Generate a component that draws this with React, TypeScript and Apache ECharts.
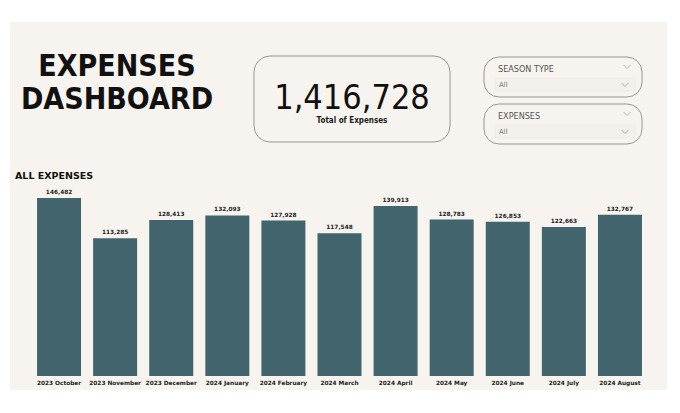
import React, { useEffect, useRef } from "react";
import * as echarts from "echarts";

const categories = [
  "2023 October", "2023 November", "2023 December", "2024 January", "2024 February",
  "2024 March", "2024 April", "2024 May", "2024 June", "2024 July", "2024 August",
];
const expenses = [146482, 113285, 128413, 132093, 127928, 117548, 139913, 128783, 126853, 122663, 132767];
const totalLabel = "1,416,728";
const slicers = [
  { title: "SEASON TYPE", value: "All" },
  { title: "EXPENSES", value: "All" },
];

export default function App() {
  const ref = useRef<HTMLDivElement>(null);
  useEffect(() => {
    const chart = echarts.init(ref.current!, null, { renderer: "svg" });
    const chevron = (x: number, y: number, color: string) => ({
      type: "polyline",
      shape: { points: [[x - 3.5, y - 2], [x, y + 1.5], [x + 3.5, y - 2]] },
      style: { stroke: color, lineWidth: 0.8, fill: "none" },
    });
    const slicerGraphics: any[] = [];
    slicers.forEach((s, i) => {
      const top = 57 + i * 47;
      slicerGraphics.push(
        { type: "rect", shape: { x: 484, y: top, width: 158, height: 40, r: 15 }, style: { fill: "#f7f4ef", stroke: "#9a9590", lineWidth: 1 } },
        { type: "rect", shape: { x: 495, y: top + 21, width: 140, height: 13, r: 1 }, style: { fill: "#f4f1ec", stroke: "#ebe7e1", lineWidth: 0.6 } },
        { type: "text", style: { x: 498, y: top + 12, text: s.title, font: "9px 'DejaVu Sans Condensed', 'DejaVu Sans'", fill: "#555", textVerticalAlign: "middle" } },
        { type: "text", style: { x: 499, y: top + 28, text: s.value, font: "7px 'DejaVu Sans'", fill: "#777", textVerticalAlign: "middle" } },
        chevron(627, top + 10, "#aaa"),
        chevron(625, top + 28, "#999"),
      );
    });
    chart.setOption({
      animation: false,
      backgroundColor: "#ffffff",
      graphic: [
        { type: "rect", z: -10, shape: { x: 10, y: 22, width: 657, height: 368 }, style: { fill: "#f7f4ef" } },
        { type: "text", style: { x: 117, y: 65, text: "EXPENSES", font: "bold 30px 'DejaVu Sans Condensed', 'DejaVu Sans'", fill: "#111", textAlign: "center", textVerticalAlign: "middle" } },
        { type: "text", style: { x: 117, y: 98, text: "DASHBOARD", font: "bold 30px 'DejaVu Sans Condensed', 'DejaVu Sans'", fill: "#111", textAlign: "center", textVerticalAlign: "middle" } },
        { type: "rect", shape: { x: 254, y: 56, width: 196, height: 86, r: 16 }, style: { fill: "#f7f4ef", stroke: "#9a9590", lineWidth: 1 } },
        { type: "text", style: { x: 352, y: 97, text: totalLabel, font: "34px 'DejaVu Sans Condensed', 'DejaVu Sans'", fill: "#111", textAlign: "center", textVerticalAlign: "middle" } },
        { type: "text", style: { x: 352, y: 120, text: "Total of Expenses", font: "bold 8px 'DejaVu Sans Condensed', 'DejaVu Sans'", fill: "#222", textAlign: "center", textVerticalAlign: "middle" } },
        ...slicerGraphics,
        { type: "text", style: { x: 15, y: 175, text: "ALL EXPENSES", font: "bold 9.5px 'DejaVu Sans'", fill: "#111", textVerticalAlign: "middle" } },
      ],
      grid: { left: 31, right: 32, top: 198, bottom: 37, containLabel: false },
      xAxis: {
        type: "category",
        data: categories,
        axisLine: { show: false },
        axisTick: { show: false },
        axisLabel: { interval: 0, margin: 4, fontSize: 5.8, fontWeight: "bold", fontFamily: "DejaVu Sans", color: "#222" },
      },
      yAxis: {
        type: "value",
        min: 0,
        max: 146482,
        show: false,
        splitLine: { show: false },
      },
      series: [
        {
          type: "bar",
          data: expenses,
          barWidth: 44,
          itemStyle: { color: "#41646d" },
          label: {
            show: true,
            position: "top",
            distance: 3,
            fontSize: 5.8,
            fontWeight: "bold",
            fontFamily: "DejaVu Sans",
            color: "#222",
            formatter: (p: any) => p.value.toLocaleString("en-US"),
          },
        },
      ],
    });
    return () => chart.dispose();
  }, []);
  return <div ref={ref} style={{ position: "fixed", left: 0, top: 0, width: 680, height: 413 }} />;
}
